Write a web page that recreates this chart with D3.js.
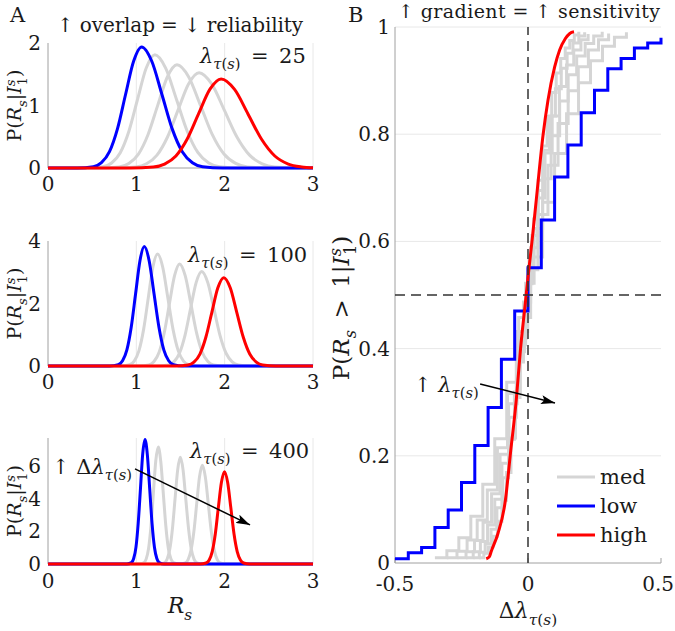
<!DOCTYPE html>
<html><head><meta charset="utf-8">
<script src="https://cdn.jsdelivr.net/npm/d3@7"></script>
<style>
body{margin:0;background:#fff}
svg{display:block}
text{font-family:"DejaVu Serif","Liberation Serif",serif;fill:#1a1a1a;white-space:pre}
</style></head>
<body><svg id="c" width="675" height="631"></svg>
<script>
// ---------------- DATA ----------------
const rsTicks = [0, 1, 2, 3];
const panelLambdas = [25, 100, 400];
const panelYMax = [2, 4, 7.7];
const panelYTicks = [[0, 1, 2], [0, 2, 4], [0, 2, 4, 6]];

// Panel A: posterior densities P(R_s | I_1^s), [R_s, density]
const lam25Low  = [[0,0],[0.332,0],[0.514,0.021],[0.605,0.085],[0.696,0.261],[0.787,0.630],[0.878,1.176],[0.969,1.708],[1.06,1.937],[1.175,1.708],[1.29,1.176],[1.405,0.630],[1.52,0.261],[1.635,0.085],[1.75,0.021],[1.98,0],[3,0]];
const lam25Med1 = [[0,0],[0.426,0],[0.622,0.020],[0.72,0.080],[0.818,0.245],[0.916,0.589],[1.014,1.100],[1.112,1.599],[1.21,1.813],[1.332,1.599],[1.454,1.100],[1.576,0.589],[1.698,0.245],[1.82,0.080],[1.942,0.020],[2.186,0],[3,0]];
const lam25Med2 = [[0,0],[0.588,0],[0.806,0.018],[0.915,0.073],[1.024,0.223],[1.133,0.537],[1.242,1.002],[1.351,1.456],[1.46,1.651],[1.593,1.456],[1.726,1.002],[1.859,0.537],[1.992,0.223],[2.125,0.073],[2.258,0.018],[2.524,0],[3,0]];
const lam25Med3 = [[0,0],[0.758,0],[0.996,0.017],[1.115,0.067],[1.234,0.206],[1.353,0.496],[1.472,0.926],[1.591,1.345],[1.71,1.525],[1.853,1.345],[1.996,0.926],[2.139,0.496],[2.282,0.206],[2.425,0.067],[2.568,0.017],[2.854,0],[3,0]];
const lam25High = [[0,0],[0.936,0],[1.192,0.016],[1.32,0.063],[1.448,0.192],[1.576,0.463],[1.704,0.865],[1.832,1.257],[1.96,1.425],[2.112,1.257],[2.264,0.865],[2.416,0.463],[2.568,0.192],[2.72,0.063],[2.872,0.016],[3,0.003]];

const lam100Low  = [[0,0],[0.696,0],[0.795,0.042],[0.844,0.168],[0.893,0.516],[0.942,1.242],[0.992,2.319],[1.041,3.370],[1.09,3.821],[1.145,3.370],[1.2,2.319],[1.256,1.242],[1.311,0.516],[1.366,0.168],[1.421,0.042],[1.532,0],[3,0]];
const lam100Med1 = [[0,0],[0.818,0],[0.924,0.039],[0.976,0.158],[1.029,0.484],[1.082,1.164],[1.135,2.175],[1.187,3.160],[1.24,3.583],[1.299,3.160],[1.357,2.175],[1.416,1.164],[1.475,0.484],[1.534,0.158],[1.592,0.039],[1.71,0],[3,0]];
const lam100Med2 = [[0,0],[1.026,0],[1.142,0.036],[1.2,0.144],[1.258,0.441],[1.316,1.062],[1.374,1.984],[1.432,2.882],[1.49,3.268],[1.554,2.882],[1.618,1.984],[1.682,1.062],[1.746,0.441],[1.81,0.144],[1.874,0.036],[2.002,0],[3,0]];
const lam100Med3 = [[0,0],[1.236,0],[1.362,0.033],[1.425,0.133],[1.488,0.408],[1.551,0.983],[1.614,1.836],[1.677,2.667],[1.74,3.024],[1.809,2.667],[1.878,1.836],[1.947,0.983],[2.016,0.408],[2.085,0.133],[2.154,0.033],[2.292,0],[3,0]];
const lam100High = [[0,0],[1.45,0],[1.585,0.031],[1.652,0.124],[1.72,0.382],[1.787,0.919],[1.855,1.717],[1.922,2.494],[1.99,2.828],[2.064,2.494],[2.137,1.717],[2.211,0.919],[2.284,0.382],[2.358,0.124],[2.431,0.031],[2.578,0],[3,0]];

const lam400Low  = [[0,0],[0.894,0],[0.945,0.084],[0.97,0.335],[0.996,1.028],[1.021,2.475],[1.047,4.622],[1.072,6.716],[1.098,7.615],[1.124,6.716],[1.151,4.622],[1.178,2.475],[1.205,1.028],[1.232,0.335],[1.259,0.084],[1.313,0],[3,0]];
const lam400Med1 = [[0,0],[1.03,0],[1.084,0.079],[1.112,0.314],[1.139,0.964],[1.166,2.322],[1.193,4.336],[1.22,6.301],[1.248,7.144],[1.276,6.301],[1.305,4.336],[1.334,2.322],[1.362,0.964],[1.391,0.314],[1.42,0.079],[1.477,0],[3,0]];
const lam400Med2 = [[0,0],[1.259,0],[1.318,0.072],[1.348,0.287],[1.378,0.880],[1.408,2.119],[1.438,3.958],[1.468,5.751],[1.498,6.52],[1.529,5.751],[1.56,3.958],[1.592,2.119],[1.623,0.880],[1.654,0.287],[1.686,0.072],[1.748,0],[3,0]];
const lam400Med3 = [[0,0],[1.489,0],[1.554,0.066],[1.586,0.266],[1.618,0.815],[1.651,1.961],[1.683,3.663],[1.715,5.323],[1.748,6.035],[1.781,5.323],[1.815,3.663],[1.849,1.961],[1.883,0.815],[1.916,0.266],[1.95,0.066],[2.018,0],[3,0]];
const lam400High = [[0,0],[1.721,0],[1.79,0.062],[1.825,0.248],[1.859,0.762],[1.894,1.835],[1.928,3.426],[1.963,4.979],[1.998,5.645],[2.034,4.979],[2.07,3.426],[2.106,1.835],[2.142,0.762],[2.178,0.248],[2.214,0.062],[2.286,0],[3,0]];

// Panel B: P(R_s > 1 | I_1^s) vs Δλ, [Δλ, probability]
const dLamTicks = [-0.5, 0, 0.5];
const probTicks = [0, 0.2, 0.4, 0.6, 0.8, 1];
const lowStairs = [[-0.5,0.008],[-0.45,0.019],[-0.4,0.029],[-0.35,0.066],[-0.3,0.099],[-0.25,0.15],[-0.2,0.219],[-0.15,0.29],[-0.1,0.38],[-0.05,0.47],[0,0.551],[0.05,0.64],[0.1,0.72],[0.15,0.78],[0.2,0.84],[0.25,0.882],[0.3,0.922],[0.35,0.941],[0.4,0.961],[0.45,0.97],[0.5,0.98]];
const medStairs1 = [[-0.35,0.010],[-0.305,0.023],[-0.26,0.047],[-0.215,0.087],[-0.17,0.147],[-0.125,0.232],[-0.08,0.337],[-0.035,0.458],[0.01,0.571],[0.055,0.673],[0.1,0.764],[0.145,0.838],[0.19,0.896],[0.235,0.937],[0.28,0.964],[0.325,0.981],[0.37,0.990]];
const medStairs2 = [[-0.305,0.010],[-0.267,0.022],[-0.229,0.043],[-0.191,0.080],[-0.153,0.136],[-0.115,0.215],[-0.077,0.316],[-0.039,0.432],[-0.001,0.547],[0.037,0.650],[0.075,0.742],[0.113,0.820],[0.151,0.881],[0.189,0.926],[0.227,0.957],[0.265,0.976],[0.303,0.988]];
const medStairs3 = [[-0.265,0.010],[-0.233,0.021],[-0.201,0.042],[-0.169,0.076],[-0.137,0.129],[-0.105,0.203],[-0.073,0.297],[-0.041,0.407],[-0.009,0.522],[0.023,0.624],[0.055,0.717],[0.087,0.797],[0.119,0.862],[0.151,0.911],[0.183,0.946],[0.215,0.969],[0.247,0.983],[0.279,0.991]];
const medStairs4 = [[-0.233,0.010],[-0.206,0.021],[-0.179,0.040],[-0.152,0.071],[-0.125,0.119],[-0.098,0.186],[-0.071,0.272],[-0.044,0.375],[-0.017,0.487],[0.01,0.588],[0.037,0.681],[0.064,0.765],[0.091,0.834],[0.118,0.889],[0.145,0.929],[0.172,0.957],[0.199,0.976],[0.226,0.987]];
const medStairs5 = [[-0.205,0.010],[-0.183,0.020],[-0.161,0.036],[-0.139,0.063],[-0.117,0.103],[-0.095,0.159],[-0.073,0.231],[-0.051,0.319],[-0.029,0.419],[-0.007,0.521],[0.015,0.611],[0.037,0.695],[0.059,0.770],[0.081,0.834],[0.103,0.885],[0.125,0.923],[0.147,0.951],[0.169,0.970],[0.191,0.983],[0.213,0.990]];
const medStairs6 = [[-0.183,0.010],[-0.166,0.018],[-0.149,0.030],[-0.132,0.050],[-0.115,0.078],[-0.098,0.117],[-0.081,0.169],[-0.064,0.233],[-0.047,0.309],[-0.03,0.394],[-0.013,0.484],[0.004,0.565],[0.021,0.642],[0.038,0.714],[0.055,0.778],[0.072,0.833],[0.089,0.878],[0.106,0.914],[0.123,0.941],[0.14,0.961],[0.157,0.975],[0.174,0.985],[0.191,0.991]];
const highCurve = [[-0.157,0.008],[-0.145,0.012],[-0.138,0.022],[-0.113,0.055],[-0.085,0.117],[-0.067,0.2],[-0.044,0.305],[-0.028,0.4],[-0.009,0.49],[0.004,0.551],[0.015,0.6],[0.031,0.677],[0.057,0.8],[0.075,0.863],[0.1,0.925],[0.119,0.957],[0.14,0.978],[0.157,0.988],[0.173,0.991]];
const legendLabels = ["med", "low", "high"];

// annotation arrows (data coordinates)
const arrowA = [[0.985, 5.81], [2.287, 2.39]];
const arrowB = [[-0.18, 0.334], [0.1015, 0.2985]];

// ---------------- DRAWING ----------------
const svg = d3.select("#c");
const GRAY = "#d5d5d5", BLUE = "#0000ff", RED = "#ff0000", AXIS = "#a0a0a0", GRID = "#e8e8e8";

const defs = svg.append("defs");
defs.append("marker").attr("id", "ah").attr("viewBox", "0 0 14 9").attr("refX", 14).attr("refY", 4.5)
  .attr("markerWidth", 14).attr("markerHeight", 9).attr("markerUnits", "userSpaceOnUse").attr("orient", "auto")
  .append("path").attr("d", "M0,0L14,4.5L0,9L3,4.5Z").attr("fill", "#000");

function rich(g, parts, base) {
  const t = g.append("text").attr("font-size", base);
  let shift = 0;
  parts.forEach(p => {
    const [str, kind, dx] = p;
    const small = kind.startsWith("sub") || kind.startsWith("sup");
    const target = kind.startsWith("sub") ? 0.3 * base : kind.startsWith("sup") ? -0.33 * base : 0;
    const ts = t.append("tspan").text(str)
      .attr("font-size", small ? base * 0.7 : base)
      .attr("font-style", kind.endsWith("i") ? "italic" : "normal");
    if (target !== shift) ts.attr("dy", target - shift);
    if (dx) ts.attr("dx", dx);
    shift = target;
  });
  return t;
}
const lamSub = [["λ", "i"], ["τ", "subi"], ["(", "subr"], ["s", "subi"], [")", "subr"]];
const pLabel = [["P(", "r"], ["R", "i"], ["s", "subi"], ["|", "r"], ["I", "i"], ["s", "supi"], ["1", "subr", -6], [")", "r"]];

// ---- Panel A ----
const xA = d3.scaleLinear().domain([0, 3]).range([48, 313]);
const panelTops = [43, 241, 438], panelBottoms = [168, 366, 564];
const panelCurves = [
  [lam25Med1, lam25Med2, lam25Med3, lam25Low, lam25High],
  [lam100Med1, lam100Med2, lam100Med3, lam100Low, lam100High],
  [lam400Med1, lam400Med2, lam400Med3, lam400Low, lam400High]
];
const curveCols = [GRAY, GRAY, GRAY, BLUE, RED];
const tickBaselines = [191, 389, 588];
const lamLabelPos = [[200, 63], [188, 262], [190, 458]];

panelLambdas.forEach((lam, i) => {
  const y = d3.scaleLinear().domain([0, panelYMax[i]]).range([panelBottoms[i], panelTops[i]]);
  const g = svg.append("g");
  g.selectAll(".vg").data(rsTicks.slice(1)).join("line")
    .attr("x1", d => xA(d)).attr("x2", d => xA(d)).attr("y1", y(0)).attr("y2", y(panelYMax[i]))
    .attr("stroke", GRID).attr("stroke-width", 1);
  g.append("line").attr("x1", xA(0)).attr("x2", xA(0)).attr("y1", y(0)).attr("y2", y(panelYMax[i])).attr("stroke", AXIS).attr("stroke-width", 1);
  g.append("line").attr("x1", xA(0)).attr("x2", xA(3)).attr("y1", y(0)).attr("y2", y(0)).attr("stroke", AXIS).attr("stroke-width", 1);
  g.selectAll(".xt").data(rsTicks).join("text")
    .attr("x", d => xA(d)).attr("y", tickBaselines[i]).attr("text-anchor", "middle").attr("font-size", 20).text(d => d);
  g.selectAll(".yt").data(panelYTicks[i]).join("text")
    .attr("x", 41).attr("y", d => y(d) + 7).attr("text-anchor", "end").attr("font-size", 20).text(d => d);
  const line = d3.line().x(d => xA(d[0])).y(d => y(d[1])).curve(d3.curveMonotoneX);
  panelCurves[i].forEach((c, k) => {
    g.append("path").attr("d", line(c)).attr("fill", "none").attr("stroke", curveCols[k])
      .attr("stroke-width", 3).attr("stroke-linejoin", "round");
  });
  rich(g, lamSub.concat([["\u2002=\u2002" + lam, "r"]]), 21)
    .attr("x", lamLabelPos[i][0]).attr("y", lamLabelPos[i][1]);
  rich(g, pLabel, 19)
    .attr("text-anchor", "middle")
    .attr("transform", `translate(21,${(panelTops[i] + panelBottoms[i]) / 2}) rotate(-90)`);
  if (i === 2) {
    g.append("line").attr("x1", xA(arrowA[0][0])).attr("y1", y(arrowA[0][1]))
      .attr("x2", xA(arrowA[1][0])).attr("y2", y(arrowA[1][1]))
      .attr("stroke", "#000").attr("stroke-width", 1.5).attr("marker-end", "url(#ah)");
    rich(g, [["↑ ", "r"], ["Δ", "r"]].concat(lamSub), 21).attr("x", 52).attr("y", 474);
    rich(g, [["R", "i"], ["s", "subi"]], 22).attr("x", 180).attr("y", 613).attr("text-anchor", "middle");
  }
});
svg.append("text").attr("x", 10).attr("y", 22).attr("font-size", 21).text("A");
svg.append("text").attr("x", 180).attr("y", 32).attr("font-size", 20).attr("text-anchor", "middle")
  .attr("textLength", 246).attr("lengthAdjust", "spacing").text("↑ overlap = ↓ reliability");

// ---- Panel B ----
const xB = d3.scaleLinear().domain([-0.5, 0.5]).range([395, 661]);
const yB = d3.scaleLinear().domain([0, 1]).range([563, 27]);
const gB = svg.append("g");
gB.selectAll(".hg").data(probTicks.slice(1)).join("line")
  .attr("x1", xB(-0.5)).attr("x2", xB(0.5)).attr("y1", d => yB(d)).attr("y2", d => yB(d))
  .attr("stroke", GRID).attr("stroke-width", 1);
gB.append("line").attr("x1", xB(-0.5)).attr("x2", xB(-0.5)).attr("y1", yB(0)).attr("y2", yB(1)).attr("stroke", AXIS);
gB.append("line").attr("x1", xB(-0.5)).attr("x2", xB(0.5)).attr("y1", yB(0)).attr("y2", yB(0)).attr("stroke", AXIS);
gB.selectAll(".xtk").data(dLamTicks).join("line")
  .attr("x1", d => xB(d)).attr("x2", d => xB(d)).attr("y1", yB(0)).attr("y2", yB(0) - 5).attr("stroke", AXIS);
gB.selectAll(".xt").data(dLamTicks).join("text")
  .attr("x", (d, k) => k === dLamTicks.length - 1 ? 674 : xB(d)).attr("y", 591)
  .attr("text-anchor", (d, k) => k === dLamTicks.length - 1 ? "end" : "middle")
  .attr("font-size", 20).text(d => d);
gB.selectAll(".yt").data(probTicks).join("text")
  .attr("x", 390).attr("y", d => yB(d) + 7).attr("text-anchor", "end").attr("font-size", 20).text(d => d);

const stairs = d3.line().x(d => xB(d[0])).y(d => yB(d[1])).curve(d3.curveStepAfter);
[medStairs1, medStairs2, medStairs3, medStairs4, medStairs5, medStairs6].forEach(s => {
  gB.append("path").attr("d", stairs(s)).attr("fill", "none").attr("stroke", GRAY).attr("stroke-width", 3);
});
gB.append("path").attr("d", stairs(lowStairs)).attr("fill", "none").attr("stroke", BLUE).attr("stroke-width", 3);
const smooth = d3.line().x(d => xB(d[0])).y(d => yB(d[1])).curve(d3.curveMonotoneX);
gB.append("path").attr("d", smooth(highCurve)).attr("fill", "none").attr("stroke", RED).attr("stroke-width", 3);

gB.append("line").attr("x1", xB(0)).attr("x2", xB(0)).attr("y1", yB(0)).attr("y2", yB(1))
  .attr("stroke", "#333").attr("stroke-width", 1.5).attr("stroke-dasharray", "10,6");
gB.append("line").attr("x1", xB(-0.5)).attr("x2", xB(0.5)).attr("y1", yB(0.5)).attr("y2", yB(0.5))
  .attr("stroke", "#333").attr("stroke-width", 1.5).attr("stroke-dasharray", "10,6");

gB.append("line").attr("x1", xB(arrowB[0][0])).attr("y1", yB(arrowB[0][1]))
  .attr("x2", xB(arrowB[1][0])).attr("y2", yB(arrowB[1][1]))
  .attr("stroke", "#000").attr("stroke-width", 1.5).attr("marker-end", "url(#ah)");
rich(gB, [["↑ ", "r"]].concat(lamSub), 21).attr("x", 414).attr("y", 392);

const legCols = [GRAY, BLUE, RED];
legendLabels.forEach((lab, k) => {
  const yy = 477 + k * 29;
  gB.append("line").attr("x1", 557).attr("x2", 595).attr("y1", yy).attr("y2", yy).attr("stroke", legCols[k]).attr("stroke-width", 3);
  gB.append("text").attr("x", 600).attr("y", yy + 7).attr("font-size", 21).text(lab);
});

rich(gB, [["Δ", "r"]].concat(lamSub), 22).attr("x", 528).attr("y", 618).attr("text-anchor", "middle");
rich(gB, [["P(", "r"], ["R", "i"], ["s", "subi"], ["\u2002>\u20021|", "r"], ["I", "i"], ["s", "supi"], ["1", "subr", -7], [")", "r"]], 23)
  .attr("text-anchor", "middle")
  .attr("transform", "translate(349,308) rotate(-90)");
svg.append("text").attr("x", 348).attr("y", 22).attr("font-size", 21).text("B");
svg.append("text").attr("x", 529).attr("y", 18).attr("font-size", 19).attr("text-anchor", "middle")
  .attr("textLength", 262).attr("lengthAdjust", "spacing").text("↑ gradient = ↑ sensitivity");
</script></body></html>
